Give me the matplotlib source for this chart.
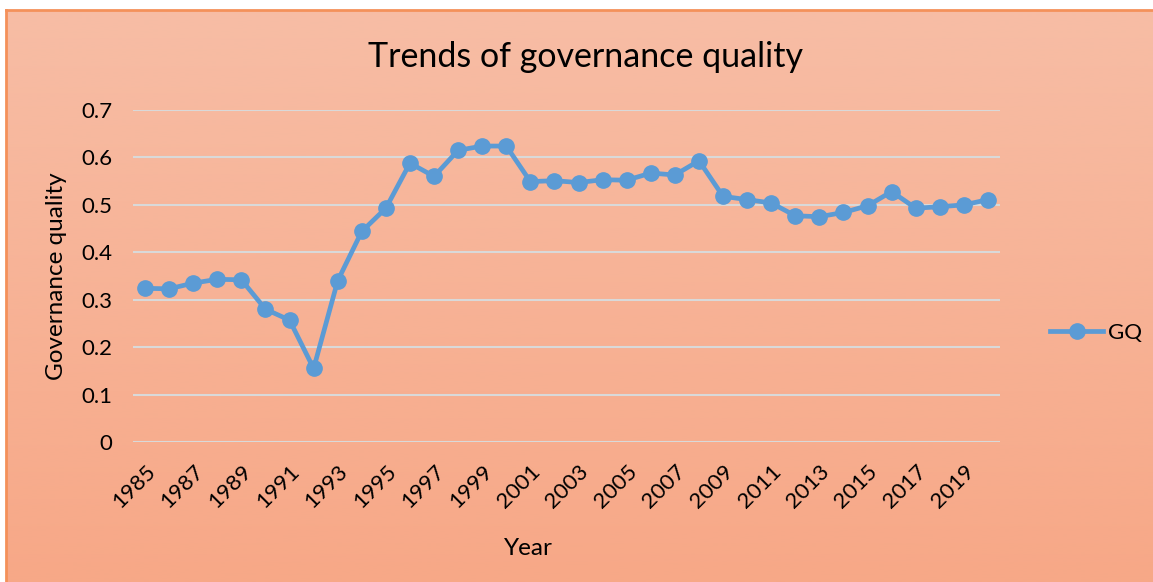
import numpy as np
import matplotlib.pyplot as plt
from matplotlib.colors import LinearSegmentedColormap

plt.rcParams['font.family'] = ['Lato', 'DejaVu Sans']

years = list(range(1985, 2021))
gq = [0.324, 0.323, 0.335, 0.343, 0.342, 0.280, 0.257, 0.155, 0.340, 0.444,
      0.493, 0.588, 0.560, 0.615, 0.624, 0.624, 0.549, 0.551, 0.547, 0.553,
      0.552, 0.567, 0.563, 0.593, 0.518, 0.511, 0.504, 0.477, 0.475, 0.484,
      0.498, 0.528, 0.493, 0.496, 0.500, 0.511]
yticks = [0, 0.1, 0.2, 0.3, 0.4, 0.5, 0.6, 0.7]
ytick_labels = ['0', '0.1', '0.2', '0.3', '0.4', '0.5', '0.6', '0.7']

W, H = 1153, 582
fig = plt.figure(figsize=(W / 100, H / 100), dpi=100)
fig.patch.set_facecolor('white')

# gradient panel behind the chart
bg = fig.add_axes([6 / W, 0, 1 - 6 / W, 1 - 10 / H])
cmap = LinearSegmentedColormap.from_list('peach', ['#F7BDA5', '#F7A887'])
bg.imshow(np.linspace(0, 1, 256).reshape(-1, 1), aspect='auto', cmap=cmap,
          extent=[0, 1, 0, 1])
bg.set_xlim(0, 1)
bg.set_ylim(0, 1)
bg.set_xticks([])
bg.set_yticks([])
for side in ['top', 'left']:
    bg.spines[side].set_color('#F4915A')
    bg.spines[side].set_linewidth(2)
for side in ['right', 'bottom']:
    bg.spines[side].set_visible(False)

ax = fig.add_axes([133 / W, 1 - 442 / H, (1000 - 133) / W, (442 - 110) / H])
ax.patch.set_alpha(0)
line, = ax.plot(years, gq, color='#5B9BD5', linewidth=3.4, marker='o',
                markersize=11, label='GQ', clip_on=False, zorder=3)

ax.set_xlim(1984.5, 2020.5)
ax.set_ylim(0, 0.7)
ax.set_yticks(yticks)
ax.set_yticklabels(ytick_labels, fontsize=16)
ax.set_xticks(years[::2])
ax.set_xticklabels([str(y) for y in years[::2]], rotation=45, ha='right',
                   va='top', rotation_mode='anchor', fontsize=16)
ax.tick_params(axis='y', length=0, pad=15)
ax.tick_params(axis='x', length=0, pad=14)
ax.grid(axis='y', color='#D9D9D9', linewidth=1.5)
ax.set_axisbelow(True)
for s in ax.spines.values():
    s.set_visible(False)

ax.set_ylabel('Governance quality', fontsize=17.5, labelpad=10)
ax.set_xlabel('Year', fontsize=17.5, labelpad=18)
ax.xaxis.set_label_coords(0.456, -0.29)

fig.text(585 / W, 1 - 57 / H, 'Trends of governance quality', fontsize=24.5,
         ha='center', va='center')

fig.legend(handles=[line], loc='center left',
           bbox_to_anchor=(1030 / W, 1 - 333 / H), frameon=False,
           fontsize=16, handlelength=2.4, handletextpad=0.2)

fig.savefig('out.png', dpi=100)
